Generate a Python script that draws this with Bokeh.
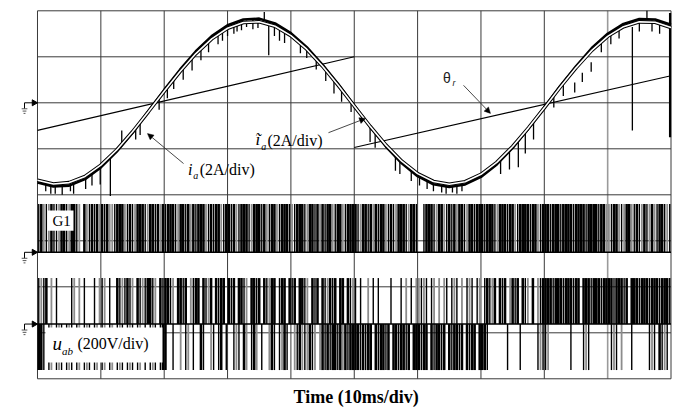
import numpy as np
from bokeh.plotting import figure
from bokeh.models import Range1d, Arrow, NormalHead
from bokeh.core.properties import value
from bokeh.embed import file_html
from bokeh.resources import INLINE

# ---------------- data ----------------
t_ms = [0, 2.5, 5, 7.5, 10, 12.5, 15, 17.5, 20, 22.5, 25, 27.5, 30, 32.5, 35, 37.5,
        40, 42.5, 45, 47.5, 50, 52.5, 55, 57.5, 60, 62.5, 65, 67.5, 70, 72.5, 75,
        77.5, 80, 82.5, 85, 87.5, 90, 92.5, 95, 97.5, 100]
ia_filtered = [-3.37, -3.53, -3.47, -3.20, -2.71, -2.05, -1.26, -0.39, 0.50, 1.36, 2.14,
               2.78, 3.24, 3.49, 3.52, 3.33, 2.92, 2.33, 1.59, 0.75, -0.14, -1.02, -1.84,
               -2.54, -3.08, -3.42, -3.54, -3.43, -3.11, -2.59, -1.90, -1.09, -0.22, 0.68,
               1.52, 2.28, 2.89, 3.31, 3.52, 3.50, 3.27]
ia_measured = [-3.47, -3.64, -3.60, -3.32, -2.81, -2.12, -1.31, -0.36, 0.56, 1.44, 2.24,
               2.90, 3.37, 3.62, 3.66, 3.45, 3.03, 2.42, 1.65, 0.80, -0.12, -1.04, -1.90,
               -2.63, -3.19, -3.54, -3.66, -3.55, -3.22, -2.68, -1.96, -1.12, -0.20, 0.73,
               1.59, 2.38, 3.00, 3.43, 3.64, 3.62, 3.39]
# spikes on the measured current (ms, from A, to A)
spike_t = [1.3, 2.1, 2.8, 3.9, 5.2, 5.7, 7.6, 8.6, 9.9, 11.5, 13.3, 15.5, 16.2, 19.2, 20.5,
           21.5, 23.0, 24.4, 25.8, 27.0, 28.5, 29.2, 30.0, 31.0, 31.5, 32.2, 33.0, 34.0,
           34.8, 35.8, 36.5, 37.4, 38.2, 39.0, 41.5, 42.5, 44.0, 45.5, 46.8, 48.0, 49.5,
           52.5, 53.3, 56.5, 57.2, 59.0, 60.3, 61.5, 62.5, 63.8, 64.5, 65.5, 66.2, 67.0,
           73.1, 74.5, 75.9, 77.0, 78.3, 81.5, 83.0, 84.8, 86.0, 87.4, 89.0, 90.5, 91.8,
           93.9, 95.0, 96.2, 97.0, 98.2]
spike_from = [-3.54, -3.58, -3.60, -3.59, -3.52, -3.47, -3.23, -3.06, -2.78, -2.37, -1.84,
              -1.11, -0.86, 0.22, 0.69, 1.04, 1.55, 2.00, 2.40, 2.71, 3.04, 3.16, 3.29,
              3.42, 3.47, 3.53, 3.58, 3.60, 3.59, 3.62, 3.50, 3.40, 3.29, 3.17, 2.63,
              2.37, 1.93, 1.45, 1.01, 0.58, 0.04, -1.04, -1.32, -2.31, -2.50, -2.93,
              -3.18, -3.36, -3.47, -3.57, -3.59, -3.60, -3.58, -3.53, -2.48, -2.04, -1.65,
              -1.28, -0.83, 0.33, 0.86, 0.88, 1.31, 1.76, 2.70, 3.03, 3.26, 3.30, 3.58,
              3.65, 3.58, 3.52]
spike_to = [-3.85, -3.95, -3.95, -4.00, -3.85, -3.95, -3.75, -3.60, -3.55, -4.05, -1.20,
            -1.60, -1.40, -0.30, 0.20, 0.60, 1.00, 1.40, 1.85, 2.20, 2.55, 2.70, 2.90,
            3.00, 3.10, 3.15, 3.30, 3.20, 3.25, 3.95, 2.07, 2.90, 2.70, 2.60, 2.15,
            1.95, 1.45, 0.95, 0.40, 0.05, -0.40, -1.70, -1.95, -2.95, -3.10, -3.40,
            -3.60, -3.75, -3.85, -3.90, -3.95, -3.90, -3.95, -3.85, -3.10, -2.90, -2.80,
            -2.20, -1.60, -0.20, 0.30, 0.45, 0.90, 1.35, 2.20, 2.55, 2.80, -1.20, 3.10,
            4.00, 3.10, 3.00]
edge_spike_t = [99.85]
edge_spike_from = [3.90]
edge_spike_to = [-1.50]

# rotor position sawtooth (div)
theta_t = [0, 50, np.nan, 50, 100]
theta_div = [5.40, 7.00, np.nan, 5.03, 6.59]

# switching states, one char per 0.4 ms slot: 0 none, 1 black edge, 2 grey edge, 3 solid
g1_states = ("1321231123312331203213132" "3132213332131233312331323"
             "1333123313231333213133213" "3132133312333132133213331"
             "2133312331323133213321333" "3123313231332131233312331"
             "0013331233213132331233133" "3133312333133213333133213"
             "3313331333313333133331332" "2133212332131231232133121")
uab_pos_states = ("1213020100000120201000102" "1201003121312031213312031"
                  "3312033130213303123031330" "3130331203313031233013303"
                  "1303312031303123130330312" "1010020101000010001020102"
                  "2121012020210121020121012" "0131230313023130312030213"
                  "3331333133313303331333133" "3313331303331333133313331")
uab_neg_states = ("3310120121012101201210120" "1201201210121012010121013"
                  "3001002012010031002101301" "0012103201320100231012310"
                  "0213212312023131331323133" "3313133031331303313313033"
                  "3133031331303133130313303" "3310000000100001000000121"
                  "1200000000100001210000000" "0121020001000000121031210")

grid_x = [0, 10, 20, 30, 40, 50, 60, 70, 80, 90, 100]
grid_y = [0, 1, 2, 3, 4, 5, 6, 7, 8]
ground_levels = [6.0, 2.75, 1.19]

# ---------------- styling constants ----------------
CUR_ZERO, CUR_SCALE = 6.0, 0.5          # 2 A/div
G1_ZERO, G1_H = 2.75, 1.05
U_ZERO, U_H = 1.19, 1.0                  # 200 V/div
SERIF = value("Liberation Serif")
SANS = value("Liberation Sans")

p = figure(width=679, height=407, x_range=Range1d(-5.84, 101.34), y_range=Range1d(-0.624, 8.224),
           output_backend="svg", toolbar_location=None, x_axis_type=None, y_axis_type=None,
           min_border=0, outline_line_color=None, background_fill_color="white")
p.grid.visible = False

# grid
gx_main = [g for g in grid_x if g != 90]
p.segment(x0=gx_main, y0=[0] * len(gx_main), x1=gx_main, y1=[8] * len(gx_main),
          line_color="#3a3a3a", line_width=1)
p.segment(x0=[90], y0=[0], x1=[90], y1=[8], line_color="#9a9a9a", line_width=1.6)
p.segment(x0=[0] * len(grid_y), y0=grid_y, x1=[100] * len(grid_y), y1=grid_y,
          line_color="#3a3a3a", line_width=1)


def pulses(states, base, height):
    n = len(states)
    dt = 100.0 / n
    bx, gx, q0, q1 = [], [], [], []
    for k, ch in enumerate(states):
        t0 = k * dt
        if ch == "1":
            bx.append(t0 + dt * 0.5)
        elif ch == "2":
            gx.append(t0 + dt * 0.5)
        elif ch == "3":
            q0.append(t0)
            q1.append(t0 + dt)
    top = base + height
    lo, hi = min(base, top), max(base, top)
    p.segment(x0=gx, y0=[lo] * len(gx), x1=gx, y1=[hi] * len(gx), line_color="#8c8c8c", line_width=1.8)
    p.segment(x0=bx, y0=[lo] * len(bx), x1=bx, y1=[hi] * len(bx), line_color="black", line_width=1.4)
    p.quad(left=q0, right=q1, bottom=[lo] * len(q0), top=[hi] * len(q0), fill_color="black", line_color=None)


pulses(g1_states, G1_ZERO, G1_H)
pulses(uab_pos_states, U_ZERO, U_H)
pulses(uab_neg_states, U_ZERO, -U_H)
p.segment(x0=[0, 0], y0=[G1_ZERO, U_ZERO], x1=[100, 100], y1=[G1_ZERO, U_ZERO],
          line_color="black", line_width=1.5)

# theta_r
p.line(theta_t, theta_div, line_color="black", line_width=1.1)

# currents
meas_y = [CUR_ZERO + v * CUR_SCALE for v in ia_measured]
filt_y = [CUR_ZERO + v * CUR_SCALE for v in ia_filtered]
p.segment(x0=spike_t, y0=[CUR_ZERO + v * CUR_SCALE for v in spike_from],
          x1=spike_t, y1=[CUR_ZERO + v * CUR_SCALE for v in spike_to],
          line_color="black", line_width=1.3)
p.segment(x0=edge_spike_t, y0=[CUR_ZERO + v * CUR_SCALE for v in edge_spike_from],
          x1=edge_spike_t, y1=[CUR_ZERO + v * CUR_SCALE for v in edge_spike_to],
          line_color="black", line_width=2.2)
p.line(t_ms, meas_y, line_color="black", line_width=2.6)
p.line(t_ms, filt_y, line_color="black", line_width=3.6)
p.line(t_ms, filt_y, line_color="white", line_width=1.6)

# ground markers
for g in ground_levels:
    p.segment(x0=[-2.05], y0=[g], x1=[0], y1=[g], line_color="black", line_width=1)
    p.segment(x0=[-2.05], y0=[g], x1=[-2.05], y1=[g - 0.13], line_color="black", line_width=1)
    p.segment(x0=[-2.5, -2.35, -2.2], y0=[g - 0.13, g - 0.18, g - 0.23],
              x1=[-1.6, -1.75, -1.9], y1=[g - 0.13, g - 0.18, g - 0.23],
              line_color="#555555", line_width=1)
    p.scatter(x=[-0.55], y=[g], marker="triangle", angle=-np.pi / 2, size=6,
              fill_color="black", line_color="black")

# label boxes
p.quad(left=[1.58, 1.26], right=[5.68, 19.73], bottom=[3.22, 0.355], top=[3.66, 1.115],
       fill_color="white", line_color=None)

# texts
p.text(x=[2.37], y=[3.42], text=["G1"], text_font=SERIF, text_font_size="15px",
       text_baseline="middle", text_align="left", text_color="black")
p.text(x=[2.37], y=[0.77], text=["u"], text_font=SERIF, text_font_size="19px",
       text_font_style="italic", text_baseline="middle", text_color="black")
p.text(x=[3.85], y=[0.6], text=["ab"], text_font=SERIF, text_font_size="11px",
       text_font_style="italic", text_baseline="middle", text_color="black")
p.text(x=[6.3], y=[0.77], text=["(200V/div)"], text_font=SERIF, text_font_size="16px",
       text_baseline="middle", text_color="black")

p.text(x=[23.75], y=[4.55], text=["i"], text_font=SERIF, text_font_size="16px",
       text_font_style="italic", text_baseline="middle", text_color="black")
p.text(x=[24.6], y=[4.42], text=["a"], text_font=SERIF, text_font_size="10px",
       text_font_style="italic", text_baseline="middle", text_color="black")
p.text(x=[25.6], y=[4.55], text=["(2A/div)"], text_font=SERIF, text_font_size="16px",
       text_baseline="middle", text_color="black")

p.text(x=[34.4], y=[5.2], text=["ĩ"], text_font=SERIF, text_font_size="17px",
       text_font_style="italic", text_baseline="middle", text_color="black")
p.text(x=[35.3], y=[5.06], text=["a"], text_font=SERIF, text_font_size="10px",
       text_font_style="italic", text_baseline="middle", text_color="black")
p.text(x=[36.3], y=[5.18], text=["(2A/div)"], text_font=SERIF, text_font_size="16px",
       text_baseline="middle", text_color="black")

p.text(x=[64.0], y=[6.54], text=["θ"], text_font=SANS, text_font_size="14px",
       text_baseline="middle", text_color="#222222")
p.text(x=[65.5], y=[6.42], text=["r"], text_font=SANS, text_font_size="9px",
       text_font_style="italic", text_baseline="middle", text_color="#222222")

p.text(x=[50.3], y=[-0.385], text=["Time (10ms/div)"], text_font=SERIF, text_font_size="18px",
       text_font_style="bold", text_baseline="middle", text_align="center", text_color="black")

# annotation arrows
for (xs, ys, xe, ye) in [(23.05, 4.68, 17.36, 5.33), (45.93, 5.35, 51.78, 5.66),
                         (67.25, 6.38, 71.5, 5.77)]:
    p.add_layout(Arrow(end=NormalHead(size=6, fill_color="black", line_color="black", line_width=0.5),
                       x_start=xs, y_start=ys, x_end=xe, y_end=ye,
                       line_color="#333333", line_width=0.9))

open("out.html", "w").write(file_html(p, INLINE))
